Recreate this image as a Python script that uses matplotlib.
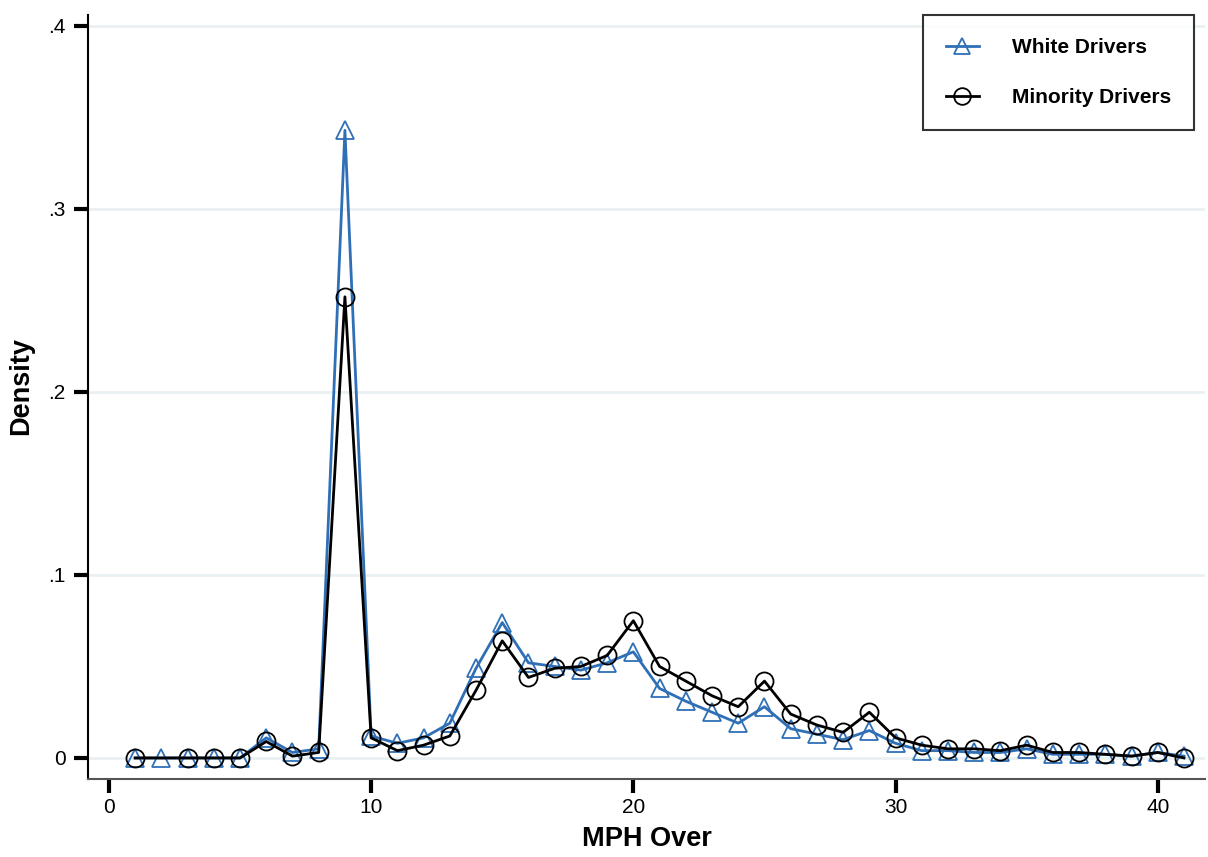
import matplotlib

matplotlib.use("Agg")
import matplotlib.pyplot as plt
from matplotlib.ticker import FuncFormatter

plt.rcParams["font.family"] = ["Liberation Sans", "DejaVu Sans"]

# density of speeding tickets by mph over the limit
white_mph = list(range(1, 42))
white_density = [
    0.000, 0.000, 0.000, 0.000, 0.000, 0.011, 0.003, 0.005, 0.343, 0.012,
    0.008, 0.011, 0.019, 0.049, 0.074, 0.052, 0.050, 0.048, 0.052, 0.058,
    0.038, 0.031, 0.025, 0.019, 0.028, 0.016, 0.013, 0.010, 0.015, 0.008,
    0.004, 0.004, 0.003, 0.003, 0.005, 0.002, 0.002, 0.002, 0.001, 0.003,
    0.001,
]

minority_mph = [1] + list(range(3, 42))
minority_density = [
    0.000, 0.000, 0.000, 0.000, 0.009, 0.001, 0.003, 0.252, 0.011,
    0.004, 0.007, 0.012, 0.037, 0.064, 0.044, 0.049, 0.050, 0.056, 0.075,
    0.050, 0.042, 0.034, 0.028, 0.042, 0.024, 0.018, 0.014, 0.025, 0.011,
    0.007, 0.005, 0.005, 0.004, 0.007, 0.003, 0.003, 0.002, 0.001, 0.003,
    0.000,
]

x_ticks = [0, 10, 20, 30, 40]
y_ticks = [0, 0.1, 0.2, 0.3, 0.4]

BLUE = "#2f6fb6"

fig = plt.figure(figsize=(12.08, 8.57), dpi=100)
ax = fig.add_axes([0.0728, 0.091, 0.9247, 0.8915])

ax.plot(white_mph, white_density, color=BLUE, lw=2, marker="^", ms=13,
        mfc="none", mec=BLUE, mew=1.3, label="White Drivers", zorder=3)
ax.plot(minority_mph, minority_density, color="black", lw=2, marker="o", ms=13,
        mfc="none", mec="black", mew=1.3, label="Minority Drivers", zorder=4)

ax.set_xlim(-0.8, 41.8)
ax.set_ylim(-0.0115, 0.406)
ax.set_xticks(x_ticks)
ax.set_yticks(y_ticks)
ax.yaxis.set_major_formatter(
    FuncFormatter(lambda v, _: "0" if v == 0 else f"{v:.1f}".lstrip("0")))

ax.grid(axis="y", color="#eaf1f3", lw=2)
ax.set_axisbelow(True)
for side in ("top", "right"):
    ax.spines[side].set_visible(False)
ax.spines["left"].set_linewidth(1.5)
ax.spines["bottom"].set_linewidth(1.5)
ax.spines["bottom"].set_color("#555555")
ax.tick_params(axis="both", direction="out", length=10, width=3, labelsize=15)
ax.tick_params(axis="x", pad=4)
ax.tick_params(axis="y", pad=6)

ax.set_xlabel("MPH Over", fontsize=19.5, fontweight="bold", labelpad=6)
ax.set_ylabel("Density", fontsize=19.5, fontweight="bold")
ax.yaxis.set_label_coords(-0.048, 0.514)

leg = ax.legend(loc="upper right", bbox_to_anchor=(0.9905, 1.0), frameon=True,
                fancybox=False, edgecolor="black",
                prop={"weight": "bold", "size": 15}, borderpad=1.1,
                labelspacing=1.5, handlelength=1.6, handletextpad=1.6,
                borderaxespad=0)
leg.get_frame().set_linewidth(1.5)
for h in leg.legend_handles:
    h.set_markersize(12)

fig.savefig("out.png", dpi=100)
